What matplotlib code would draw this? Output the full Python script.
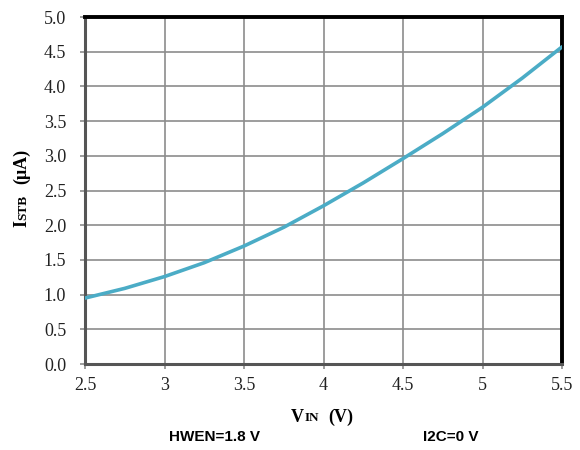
import matplotlib.pyplot as plt

# standby current vs input voltage
vin = [2.5, 2.75, 3.0, 3.25, 3.5, 3.75, 4.0, 4.25, 4.5, 4.75, 5.0, 5.25, 5.5]
istb = [0.95, 1.09, 1.26, 1.46, 1.70, 1.97, 2.28, 2.61, 2.96, 3.32, 3.70, 4.12, 4.57]

x_ticks = [2.5, 3, 3.5, 4, 4.5, 5, 5.5]
x_ticklabels = ['2.5', '3', '3.5', '4', '4.5', '5', '5.5']
y_ticks = [0.0, 0.5, 1.0, 1.5, 2.0, 2.5, 3.0, 3.5, 4.0, 4.5, 5.0]

serif = 'Liberation Serif'
sans = 'Liberation Sans'

fig = plt.figure(figsize=(5.8, 4.5), dpi=100)
ax = fig.add_axes([0.1466, 0.1911, 0.8224, 0.7711])

ax.plot(vin, istb, color='#4BACC6', lw=2.6, solid_capstyle='round', zorder=3)

ax.set_xlim(2.5, 5.5)
ax.set_ylim(0, 5)
ax.set_xticks(x_ticks)
ax.set_xticklabels(x_ticklabels)
ax.set_yticks(y_ticks)
ax.set_yticklabels([f'{v:.1f}' for v in y_ticks])
for lab in ax.get_xticklabels() + ax.get_yticklabels():
    lab.set_fontfamily(serif)
    lab.set_fontsize(13)
    lab.set_color('#222222')

ax.grid(True, color='#8c8c8c', lw=1.2)
ax.set_axisbelow(True)
ax.tick_params(direction='out', length=3.5, width=1.2, color='#8c8c8c')
ax.tick_params(axis='y', pad=10)
ax.tick_params(axis='x', pad=6)

for s in ['top', 'right']:
    ax.spines[s].set_color('black')
    ax.spines[s].set_linewidth(2.8)
for s in ['left', 'bottom']:
    ax.spines[s].set_color('#555555')
    ax.spines[s].set_linewidth(2.2)

# y label: I, small caps STB, (uA) -- reads bottom to top
fig.text(0.038, 0.504, 'I', rotation=90, fontsize=13, fontweight='bold',
         family=serif, ha='center', va='center')
fig.text(0.040, 0.540, 'STB', rotation=90, fontsize=9.5, fontweight='bold',
         family=serif, ha='center', va='center')
fig.text(0.038, 0.630, '(μA)', rotation=90, fontsize=13, fontweight='bold',
         family=serif, ha='center', va='center')

# x label: V, small caps IN, (V)
fig.text(0.513, 0.073, 'V', fontsize=13, fontweight='bold', family=serif,
         ha='center', va='center')
fig.text(0.538, 0.071, 'IN', fontsize=9.5, fontweight='bold', family=serif,
         ha='center', va='center')
fig.text(0.588, 0.073, '(V)', fontsize=13, fontweight='bold', family=serif,
         ha='center', va='center')

fig.text(0.369, 0.029, 'HWEN=1.8 V', fontsize=11, fontweight='bold', family=sans,
         ha='center', va='center')
fig.text(0.778, 0.029, 'I2C=0 V', fontsize=11, fontweight='bold', family=sans,
         ha='center', va='center')

fig.savefig('out.png', dpi=100)
